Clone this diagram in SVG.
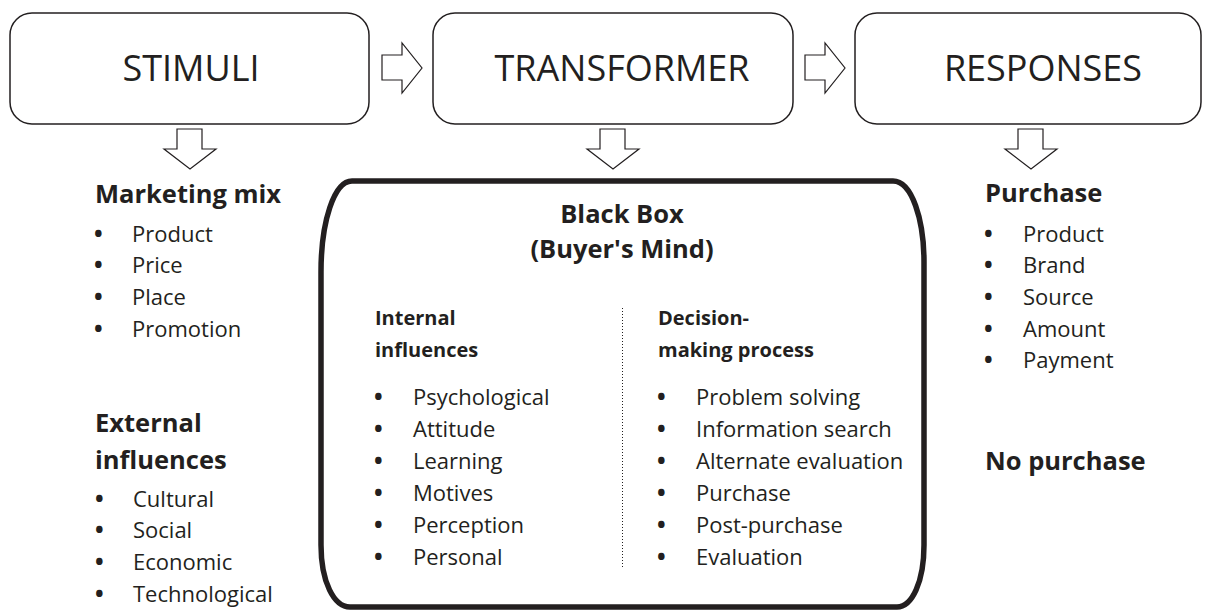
<svg xmlns="http://www.w3.org/2000/svg" width="1210" height="614" viewBox="0 0 1210 614">
<style>
.box{fill:#fff;stroke:#231f20;stroke-width:1.5}
.arr{fill:#fff;stroke:#231f20;stroke-width:1.2;stroke-linejoin:miter}
.title{font-family:"Open Sans","Liberation Sans",sans-serif;font-size:36px;fill:#231f20;text-anchor:middle}
.h{font-family:"Open Sans","Liberation Sans",sans-serif;font-size:25.5px;font-weight:bold;fill:#231f20}
.h2{font-family:"Open Sans","Liberation Sans",sans-serif;font-size:20px;font-weight:bold;fill:#231f20}
.t{font-family:"Open Sans","Liberation Sans",sans-serif;font-size:22px;fill:#231f20}
.b{font-size:23px;font-weight:bold}
</style>
<rect width="1210" height="614" fill="#fff"/>
<g id="stimuli">
<rect class="box" x="10" y="13" width="359" height="111" rx="22"/>
<text class="title" x="191" y="81">STIMULI</text>
</g>
<g id="transformer">
<rect class="box" x="433" y="13" width="360" height="111" rx="22"/>
<text class="title" x="622" y="81">TRANSFORMER</text>
</g>
<g id="responses">
<rect class="box" x="855" y="13" width="346" height="111" rx="22"/>
<text class="title" x="1043" y="81">RESPONSES</text>
</g>
<g id="connectors">
<path class="arr" d="M382,55 H402 V43 L422,68 L402,93 V80 H382 Z"/>
<path class="arr" d="M805,55 H825 V43 L845,68 L825,93 V80 H805 Z"/>
<path class="arr" d="M177,129 H202 V149 H216 L190,169 L164,149 H177 Z"/>
<path class="arr" d="M600,129 H625 V149 H639 L613,169 L587,149 H600 Z"/>
<path class="arr" d="M1018,129 H1043 V149 H1057 L1031,169 L1005,149 H1018 Z"/>
</g>
<g id="marketing-mix">
<text class="h" x="95" y="203">Marketing mix</text>
<g class="t">
<text x="94" y="242"><tspan class="b">•</tspan><tspan x="132">Product</tspan></text>
<text x="94" y="273"><tspan class="b">•</tspan><tspan x="132">Price</tspan></text>
<text x="94" y="305"><tspan class="b">•</tspan><tspan x="132">Place</tspan></text>
<text x="94" y="337"><tspan class="b">•</tspan><tspan x="132">Promotion</tspan></text>
</g>
</g>
<g id="external-influences">
<text class="h" x="95" y="432">External</text>
<text class="h" x="95" y="469">influences</text>
<g class="t">
<text x="95" y="507"><tspan class="b">•</tspan><tspan x="133">Cultural</tspan></text>
<text x="95" y="538"><tspan class="b">•</tspan><tspan x="133">Social</tspan></text>
<text x="95" y="570"><tspan class="b">•</tspan><tspan x="133">Economic</tspan></text>
<text x="95" y="602"><tspan class="b">•</tspan><tspan x="133">Technological</tspan></text>
</g>
</g>
<g id="black-box">
<path d="M352,181 H893 C912,181 924,220 924,262 V545 C924,582 912,607 897,607 H350 C334,607 321,582 321,545 V272 C321,222 334,181 352,181 Z" fill="#fff" stroke="#231f20" stroke-width="5.5"/>
<text class="h" x="622" y="223" text-anchor="middle">Black Box</text>
<text class="h" x="622" y="258" text-anchor="middle">(Buyer's Mind)</text>
<line x1="622.5" y1="308" x2="622.5" y2="568" stroke="#231f20" stroke-width="1" stroke-dasharray="1,2"/>
<text class="h2" x="375" y="325">Internal</text>
<text class="h2" x="375" y="357">influences</text>
<g class="t">
<text x="374" y="405"><tspan class="b">•</tspan><tspan x="413">Psychological</tspan></text>
<text x="374" y="437"><tspan class="b">•</tspan><tspan x="413">Attitude</tspan></text>
<text x="374" y="469"><tspan class="b">•</tspan><tspan x="413">Learning</tspan></text>
<text x="374" y="501"><tspan class="b">•</tspan><tspan x="413">Motives</tspan></text>
<text x="374" y="533"><tspan class="b">•</tspan><tspan x="413">Perception</tspan></text>
<text x="374" y="565"><tspan class="b">•</tspan><tspan x="413">Personal</tspan></text>
</g>
<text class="h2" x="658" y="325">Decision-</text>
<text class="h2" x="658" y="357">making process</text>
<g class="t">
<text x="657" y="405"><tspan class="b">•</tspan><tspan x="696">Problem solving</tspan></text>
<text x="657" y="437"><tspan class="b">•</tspan><tspan x="696">Information search</tspan></text>
<text x="657" y="469"><tspan class="b">•</tspan><tspan x="696">Alternate evaluation</tspan></text>
<text x="657" y="501"><tspan class="b">•</tspan><tspan x="696">Purchase</tspan></text>
<text x="657" y="533"><tspan class="b">•</tspan><tspan x="696">Post-purchase</tspan></text>
<text x="657" y="565"><tspan class="b">•</tspan><tspan x="696">Evaluation</tspan></text>
</g>
</g>
<g id="purchase">
<text class="h" x="985" y="202">Purchase</text>
<g class="t">
<text x="984" y="242"><tspan class="b">•</tspan><tspan x="1023">Product</tspan></text>
<text x="984" y="273"><tspan class="b">•</tspan><tspan x="1023">Brand</tspan></text>
<text x="984" y="305"><tspan class="b">•</tspan><tspan x="1023">Source</tspan></text>
<text x="984" y="337"><tspan class="b">•</tspan><tspan x="1023">Amount</tspan></text>
<text x="984" y="368"><tspan class="b">•</tspan><tspan x="1023">Payment</tspan></text>
</g>
</g>
<g id="no-purchase">
<text class="h" x="985" y="470">No purchase</text>
</g>
</svg>
